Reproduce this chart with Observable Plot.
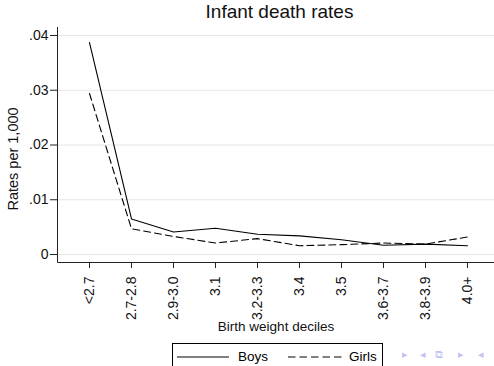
<!DOCTYPE html>
<html>
<head>
<meta charset="utf-8">
<script src="https://cdn.jsdelivr.net/npm/d3@7"></script>
<script src="https://cdn.jsdelivr.net/npm/@observablehq/plot@0.6"></script>
<style>
  html, body { margin: 0; padding: 0; background: #fff; }
  #wrap { position: relative; width: 494px; height: 366px; overflow: hidden; font-family: "Liberation Sans", Arial, sans-serif; }
  #title { position: absolute; top: 1px; left: 61px; width: 437px; text-align: center; font-size: 19px; color: #111; }
  #legend { position: absolute; left: 172px; top: 343px; width: 211px; height: 30px; border: 1px solid #000; box-sizing: border-box; font-size: 13.5px; }
  #legend .item { position: absolute; top: 5px; display: flex; align-items: center; }
  #nav { position: absolute; top: 348px; left: 400px; font-size: 11px; color: #c4c4f4; }
  #nav span { position: absolute; }
  g[aria-label$="tick label"] { font-size: 14px; }
</style>
</head>
<body>
<div id="wrap">
  <div id="chart"></div>
  <div id="title">Infant death rates</div>
  <div id="legend">
    <div class="item" style="left:4px"><svg width="52" height="10"><line x1="0" x2="52" y1="5" y2="5" stroke="#000" stroke-width="1"/></svg><span style="margin-left:9px">Boys</span></div>
    <div class="item" style="left:115px"><svg width="54" height="10"><line x1="0" x2="54" y1="5" y2="5" stroke="#000" stroke-width="1" stroke-dasharray="7.5,4"/></svg><span style="margin-left:7px">Girls</span></div>
  </div>
  <div id="nav"><span style="left:2px">&#9656;</span><span style="left:20px">&#9666;</span><span style="left:35px">&#10697;</span><span style="left:58px">&#9656;</span><span style="left:78px">&#9666;</span></div>
</div>
<script>
const categories = ["<2.7","2.7-2.8","2.9-3.0","3.1","3.2-3.3","3.4","3.5","3.6-3.7","3.8-3.9","4.0+"];
const boys  = [0.0387,0.0065,0.0041,0.0048,0.0037,0.0034,0.0027,0.0017,0.0019,0.0016];
const girls = [0.0294,0.0047,0.0033,0.0021,0.0029,0.0016,0.0018,0.0021,0.0019,0.0032];
const yTicks = [0, 0.01, 0.02, 0.03, 0.04];
const xLabel = "Birth weight deciles";
const yLabel = "Rates per 1,000";

const boysData = categories.map((c, i) => ({cat: c, v: boys[i]}));
const girlsData = categories.map((c, i) => ({cat: c, v: girls[i]}));
const fmtY = d => d === 0 ? "0" : d3.format(".2f")(d).replace(/^0/, "");

// axis lines along the left and bottom edges of the frame
function axisLines(index, scales, values, dimensions) {
  const d = dimensions || {width: 494, height: 366, marginLeft: 57, marginRight: 0, marginTop: 27, marginBottom: 104};
  const g = d3.create("svg:g").attr("stroke", "#222").attr("stroke-width", 1);
  const x0 = d.marginLeft + 0.5, x1 = d.width - d.marginRight;
  const y0 = d.marginTop, y1 = d.height - d.marginBottom + 0.5;
  g.append("line").attr("x1", x0).attr("x2", x0).attr("y1", y0).attr("y2", y1);
  g.append("line").attr("x1", x0).attr("x2", x1).attr("y1", y1).attr("y2", y1);
  return g.node();
}

const chart = Plot.plot({
  width: 494,
  height: 366,
  marginTop: 27,
  marginLeft: 57,
  marginRight: 0,
  marginBottom: 104,
  style: {fontFamily: "'Liberation Sans', Arial, sans-serif", fontSize: "13.5px", color: "#111", background: "#fff"},
  x: {type: "point", domain: categories, range: [66, 490]},
  y: {domain: [-0.00146, 0.04146]},
  marks: [
    Plot.gridY(yTicks, {stroke: "#e6e6e6", strokeOpacity: 1, strokeWidth: 1}),
    Plot.axisY(yTicks, {tickSize: 7, tickPadding: 2, tickFormat: fmtY, label: null, fontSize: 14, stroke: "#222"}),
    Plot.axisX({tickSize: 6, tickPadding: 8, tickRotate: -90, label: null, fontSize: 14, stroke: "#222"}),
    axisLines,
    Plot.line(boysData, {x: "cat", y: "v", stroke: "#000", strokeWidth: 1.1}),
    Plot.line(girlsData, {x: "cat", y: "v", stroke: "#000", strokeWidth: 1.1, strokeDasharray: "7,4"}),
    Plot.text([xLabel], {frameAnchor: "bottom", dy: 68, fontSize: 13.5, lineAnchor: "bottom", fill: "#111"}),
    Plot.text([yLabel], {frameAnchor: "left", dx: -44, dy: 14, rotate: -90, textAnchor: "middle", fontSize: 14.5, fill: "#111"})
  ]
});
document.getElementById("chart").appendChild(chart);
</script>
</body>
</html>
